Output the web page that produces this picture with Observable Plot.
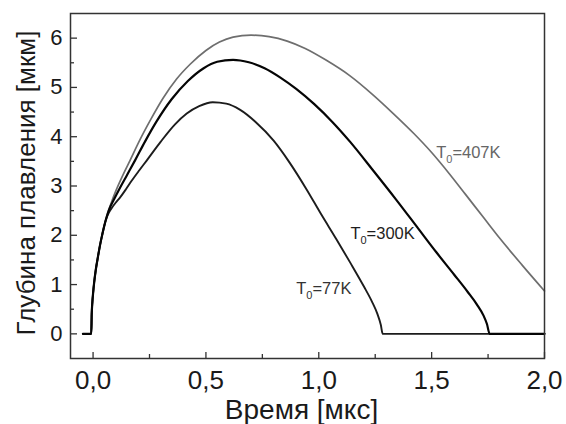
<!DOCTYPE html>
<html><head><meta charset="utf-8">
<script src="https://cdn.jsdelivr.net/npm/d3@7"></script>
<script src="https://cdn.jsdelivr.net/npm/@observablehq/plot@0.6"></script>
<style>body{margin:0;background:#fff}</style>
</head><body><div id="chart"></div>
<script>
// Series names (T_0 -> T with subscript 0)
const seriesNames = ["T_0=407K", "T_0=300K", "T_0=77K"];

// T0 = 407 K
const x407 = [-0.045,-0.008,-0.006,-0.003,0.0,0.005,0.012,0.02,0.03,0.04,0.05,0.06,0.07,0.083,0.1,0.13,0.164,0.208,0.252,0.31,0.37,0.43,0.50,0.56,0.62,0.70,0.78,0.86,0.94,1.03,1.137,1.24,1.33,1.42,1.5,1.58,1.65,1.73,1.8,1.9,2.0];
const y407 = [0,0,0.4,0.65,0.82,1.05,1.3,1.52,1.78,2.0,2.2,2.37,2.52,2.69,2.89,3.2,3.52,3.94,4.32,4.78,5.17,5.47,5.75,5.92,6.02,6.06,6.03,5.94,5.79,5.56,5.24,4.85,4.47,4.07,3.68,3.24,2.83,2.36,1.95,1.4,0.87];

// T0 = 300 K
const x300 = [-0.045,-0.008,-0.006,-0.003,0.0,0.005,0.012,0.02,0.03,0.04,0.05,0.06,0.07,0.093,0.12,0.15,0.186,0.23,0.28,0.348,0.42,0.49,0.55,0.62,0.69,0.76,0.83,0.90,0.98,1.06,1.14,1.24,1.34,1.44,1.52,1.60,1.66,1.70,1.73,1.745,1.757,2.0];
const y300 = [0,0,0.4,0.65,0.82,1.05,1.3,1.52,1.78,2.0,2.2,2.37,2.51,2.73,2.97,3.22,3.52,3.9,4.3,4.76,5.13,5.39,5.52,5.56,5.51,5.39,5.2,4.97,4.66,4.3,3.89,3.32,2.74,2.14,1.66,1.2,0.85,0.6,0.37,0.2,0,0];

// T0 = 77 K
const x77 = [-0.045,-0.008,-0.006,-0.003,0.0,0.005,0.012,0.02,0.03,0.04,0.05,0.06,0.07,0.085,0.1,0.12,0.145,0.17,0.205,0.243,0.30,0.363,0.415,0.47,0.53,0.59,0.65,0.72,0.80,0.87,0.946,1.01,1.078,1.14,1.20,1.235,1.26,1.275,1.283,2.0];
const y77 = [0,0,0.4,0.65,0.82,1.05,1.3,1.52,1.78,2.0,2.2,2.35,2.46,2.57,2.66,2.77,2.93,3.1,3.32,3.55,3.9,4.25,4.47,4.62,4.7,4.67,4.55,4.3,3.92,3.48,2.93,2.43,1.92,1.44,0.96,0.66,0.4,0.18,0,0];

// Curve label anchors (data coords)
const labelX = [1.52, 1.14, 0.90];
const labelY = [3.68, 2.03, 0.91];

// Ticks
const xTicksMajor = [0, 0.5, 1, 1.5, 2];
const xTicksMinor = [0.25, 0.75, 1.25, 1.75];
const yTicksMajor = [0, 1, 2, 3, 4, 5, 6];
const yTicksMinor = [0.5, 1.5, 2.5, 3.5, 4.5, 5.5];

const xTitle = "Время [мкс]";
const yTitle = "Глубина плавления [мкм]";

const toRows = (xs, ys) => xs.map((x, i) => ({x, y: ys[i]}));
const d407 = toRows(x407, y407);
const d300 = toRows(x300, y300);
const d77 = toRows(x77, y77);
const labels = seriesNames.map((s, i) => ({text: s, x: labelX[i], y: labelY[i]}));
const labelColors = ["#666666", "#1e1e1e", "#333333"];

const W = 566, H = 424;
const mL = 70, mR = 22, mT = 13, mB = 66;
const fw = W - mL - mR, fh = H - mT - mB;

const fmtX = d => d.toFixed(1).replace(".", ",");

const plot = Plot.plot({
  width: W, height: H,
  marginLeft: mL, marginRight: mR, marginTop: mT, marginBottom: mB,
  style: {fontFamily: "'Liberation Sans', Arial, sans-serif", background: "#fff", color: "#1a1a1a"},
  x: {domain: [-0.1, 2.0]},
  y: {domain: [-0.5, 6.5]},
  marks: [
    Plot.line(d407, {x: "x", y: "y", stroke: "#6e6e6e", strokeWidth: 1.7, curve: "monotone-x"}),
    Plot.line(d77, {x: "x", y: "y", stroke: "#1c1c1c", strokeWidth: 1.9, curve: "monotone-x"}),
    Plot.line(d300, {x: "x", y: "y", stroke: "#050505", strokeWidth: 2.2, curve: "monotone-x"}),
    Plot.tickX(xTicksMajor, {x: d => d, insetTop: fh - 6, stroke: "#333", strokeWidth: 1.3}),
    Plot.tickX(xTicksMinor, {x: d => d, insetTop: fh - 4, stroke: "#333", strokeWidth: 1.3}),
    Plot.tickY(yTicksMajor, {y: d => d, insetRight: fw - 7, stroke: "#333", strokeWidth: 1.3}),
    Plot.tickY(yTicksMinor, {y: d => d, insetRight: fw - 4, stroke: "#333", strokeWidth: 1.3}),
    Plot.axisX(xTicksMajor, {tickSize: 0, tickPadding: 12, tickFormat: fmtX, fontSize: 26, label: null, fill: "#1a1a1a"}),
    Plot.axisY(yTicksMajor, {tickSize: 0, tickPadding: 8, fontSize: 22, label: null, fill: "#1a1a1a"}),
    Plot.frame({stroke: "#333", strokeWidth: 1.5}),
    Plot.text(labels, {x: "x", y: "y", text: "text", textAnchor: "start", fontSize: 16.5, fill: d => labelColors[seriesNames.indexOf(d.text)]}),
    Plot.text([xTitle], {text: d => d, frameAnchor: "bottom", dy: 60, dx: -6, fontSize: 28, lineAnchor: "bottom", fill: "#1a1a1a"}),
    Plot.text([yTitle], {text: d => d, frameAnchor: "left", rotate: -90, dx: -36, dy: -3, fontSize: 26, lineAnchor: "bottom", textAnchor: "middle", fill: "#1a1a1a"})
  ]
});

// Subscripts: "T_0=..." -> T with subscript 0
const ns = "http://www.w3.org/2000/svg";
plot.querySelectorAll("text").forEach(t => {
  const s = t.textContent;
  if (s.includes("_")) {
    const [a, b] = s.split("_");
    while (t.firstChild) t.removeChild(t.firstChild);
    const t1 = document.createElementNS(ns, "tspan"); t1.textContent = a;
    const t2 = document.createElementNS(ns, "tspan"); t2.textContent = b[0];
    t2.setAttribute("font-size", "11"); t2.setAttribute("dy", "5");
    const t3 = document.createElementNS(ns, "tspan"); t3.textContent = b.slice(1);
    t3.setAttribute("dy", "-5");
    t.append(t1, t2, t3);
  }
});

document.getElementById("chart").append(plot);
</script>
</body></html>
